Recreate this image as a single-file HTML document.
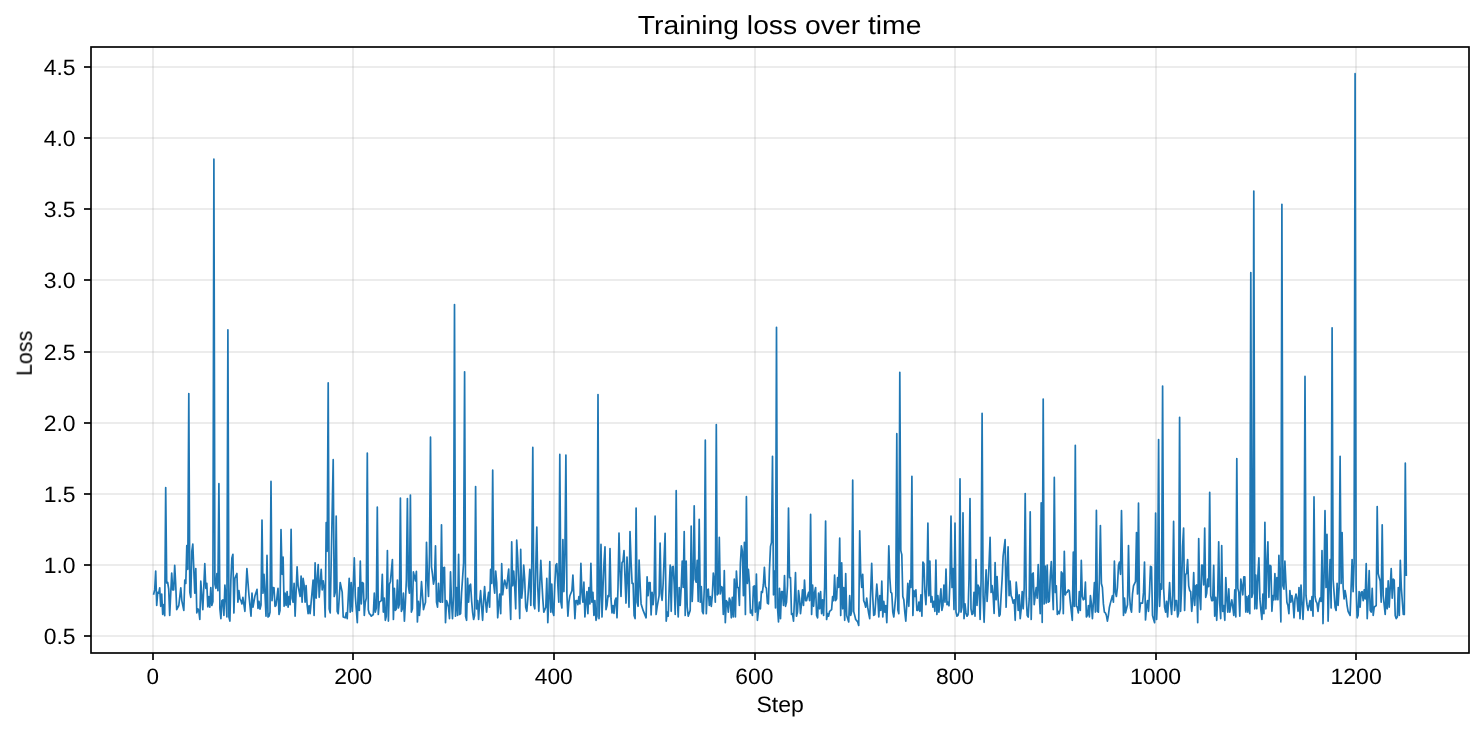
<!DOCTYPE html>
<html lang="en"><head><meta charset="utf-8"><title>Training loss over time</title>
<style>html,body{margin:0;padding:0;background:#fff;}body{width:1484px;height:731px;overflow:hidden;}svg{display:block;}text{font-family:"Liberation Sans",sans-serif;fill:#000;text-rendering:geometricPrecision;}</style></head><body>
<svg width="1484" height="731" viewBox="0 0 1484 731">
<rect x="0" y="0" width="1484" height="731" fill="#fff"/>
<path d="M153.0 47.0V653.0M353.0 47.0V653.0M554.0 47.0V653.0M755.0 47.0V653.0M955.0 47.0V653.0M1156.0 47.0V653.0M1356.0 47.0V653.0" stroke="#b0b0b0" stroke-opacity="0.3" stroke-width="1.67" fill="none"/>
<path d="M91.0 636.0H1469.0M91.0 565.0H1469.0M91.0 494.0H1469.0M91.0 423.0H1469.0M91.0 352.0H1469.0M91.0 280.0H1469.0M91.0 209.0H1469.0M91.0 138.0H1469.0M91.0 67.0H1469.0" stroke="#b0b0b0" stroke-opacity="0.3" stroke-width="1.67" fill="none"/>
<clipPath id="c"><rect x="91.0" y="47.0" width="1378.0" height="606.0"/></clipPath>
<path clip-path="url(#c)" d="M153.7 594.0 L154.7 589.9 L155.7 571.0 L156.7 605.5 L157.7 592.4 L158.7 593.2 L159.7 587.8 L160.7 606.3 L161.7 594.0 L162.7 614.5 L163.7 604.7 L164.7 615.7 L165.7 487.6 L166.7 582.9 L167.7 582.5 L168.7 589.1 L169.7 615.4 L171.7 573.0 L172.7 589.9 L173.7 589.9 L174.7 565.3 L175.7 584.2 L176.7 609.6 L178.8 605.5 L180.8 587.8 L181.8 600.6 L183.8 610.4 L184.8 580.1 L185.8 583.4 L186.8 545.6 L187.8 569.4 L188.8 393.6 L189.8 592.4 L190.8 597.3 L191.8 551.3 L192.8 544.0 L193.8 569.4 L194.8 593.2 L195.8 568.6 L196.8 612.9 L197.8 608.8 L198.8 610.4 L199.8 619.5 L200.8 581.2 L201.8 595.7 L202.8 609.6 L204.8 563.7 L205.8 588.3 L206.8 583.4 L207.8 606.8 L208.8 596.5 L209.8 607.2 L210.8 587.5 L211.8 605.5 L212.9 601.5 L213.9 159.2 L214.9 584.3 L215.9 588.3 L216.9 573.5 L217.9 590.7 L218.9 483.7 L219.9 608.8 L220.9 618.6 L221.9 600.6 L222.9 599.8 L223.9 615.4 L224.9 585.0 L225.9 598.1 L226.9 617.0 L227.9 329.8 L228.9 617.1 L229.9 621.1 L230.9 579.2 L231.9 557.9 L232.9 554.3 L233.9 612.9 L234.9 578.4 L236.9 573.5 L237.9 602.2 L238.9 590.7 L239.9 598.9 L240.9 600.6 L241.9 603.9 L242.9 597.3 L244.9 611.3 L246.9 568.6 L249.0 595.7 L251.0 616.2 L252.0 593.2 L253.0 607.2 L255.0 595.7 L257.0 589.4 L258.0 608.5 L259.0 601.4 L260.0 609.1 L261.0 605.1 L262.0 520.0 L263.0 593.2 L264.0 574.3 L265.0 594.0 L266.0 616.2 L267.0 555.4 L268.0 617.0 L269.0 616.2 L270.0 612.2 L271.0 481.4 L272.0 600.6 L273.0 587.5 L274.0 587.8 L275.0 606.3 L276.0 605.5 L278.0 588.3 L279.0 614.5 L280.0 610.5 L281.0 529.5 L282.1 574.3 L283.1 557.1 L284.1 606.3 L285.1 593.2 L286.1 605.5 L287.1 591.6 L288.1 607.2 L289.1 596.5 L290.1 604.7 L291.1 529.3 L292.1 598.2 L293.1 602.2 L294.1 583.4 L295.1 616.2 L297.1 566.9 L298.1 585.8 L300.1 596.5 L301.1 576.0 L302.1 602.2 L303.1 578.4 L304.1 585.0 L305.1 602.2 L306.1 585.5 L307.1 604.7 L308.1 613.7 L309.1 605.5 L310.1 613.7 L312.1 591.6 L313.1 580.1 L314.1 615.4 L315.1 562.8 L316.1 598.1 L317.2 579.2 L318.2 564.5 L319.2 597.3 L321.2 569.4 L322.2 589.9 L323.2 580.9 L324.2 588.3 L325.2 617.0 L326.2 522.5 L327.2 551.3 L328.2 382.9 L329.2 608.9 L330.2 612.9 L333.2 459.7 L334.2 596.5 L335.2 592.5 L336.2 516.2 L337.2 611.3 L338.2 613.7 L340.2 582.5 L341.2 587.5 L342.2 592.1 L343.2 617.0 L345.2 617.8 L346.2 612.9 L347.2 618.6 L349.2 578.4 L350.2 612.1 L351.2 582.5 L352.3 611.3 L354.3 557.9 L355.3 595.7 L357.3 622.7 L358.3 587.5 L359.3 610.4 L360.3 561.2 L361.3 603.9 L362.3 582.5 L363.3 583.4 L364.3 615.4 L365.3 602.2 L366.3 598.2 L367.3 453.0 L368.3 609.7 L369.3 613.7 L370.3 614.5 L371.3 616.2 L373.3 614.5 L374.3 593.2 L375.3 612.1 L376.3 608.1 L377.3 507.2 L378.3 614.5 L379.3 602.2 L381.3 600.6 L382.3 574.3 L383.3 612.1 L384.3 598.1 L385.3 620.3 L386.3 616.3 L387.4 550.5 L388.4 621.1 L389.4 584.2 L390.4 581.7 L392.4 559.5 L393.4 619.5 L394.4 588.3 L395.4 610.4 L396.4 608.8 L397.4 580.1 L398.4 608.0 L399.4 604.0 L400.4 498.1 L401.4 611.3 L402.4 608.8 L403.4 593.2 L404.4 621.1 L405.4 602.2 L406.4 579.2 L407.4 498.6 L408.4 585.8 L409.4 593.2 L410.4 495.1 L411.4 612.1 L412.4 608.8 L413.4 571.9 L415.4 580.9 L416.4 571.4 L417.4 621.9 L418.4 601.4 L419.4 615.4 L420.4 602.2 L421.5 581.7 L422.5 595.7 L423.5 609.6 L424.5 605.5 L425.5 602.2 L426.5 542.3 L427.5 579.2 L428.5 596.5 L429.5 554.6 L430.5 437.2 L431.5 566.9 L432.5 574.3 L433.5 584.2 L434.5 579.2 L435.5 545.9 L436.5 602.2 L437.5 607.2 L438.5 583.4 L439.5 601.4 L440.5 602.2 L441.5 524.8 L442.5 602.2 L443.5 567.8 L444.5 567.4 L445.5 622.7 L446.5 600.6 L447.5 603.1 L448.5 607.2 L449.5 618.6 L450.5 571.9 L451.5 602.2 L452.5 618.6 L453.5 595.7 L454.5 304.5 L455.5 616.2 L456.6 587.5 L457.6 615.4 L458.6 554.3 L459.6 614.5 L460.6 613.7 L461.6 592.4 L463.6 562.8 L464.6 371.8 L465.6 616.3 L466.6 620.3 L467.6 578.4 L468.6 602.2 L469.6 585.8 L470.6 584.2 L471.6 600.6 L472.6 612.1 L473.6 619.5 L474.6 615.5 L475.6 486.5 L476.6 608.8 L477.6 600.6 L478.6 619.5 L479.6 602.2 L480.6 590.7 L481.6 606.3 L482.6 620.3 L483.6 600.6 L484.6 586.6 L485.6 602.2 L486.6 612.1 L487.6 599.8 L488.6 592.4 L489.6 607.2 L490.6 569.4 L491.7 583.4 L492.7 470.2 L493.7 584.2 L494.7 593.2 L495.7 571.0 L496.7 582.5 L497.7 617.8 L498.7 603.9 L499.7 594.0 L500.7 613.7 L501.7 563.7 L502.7 594.8 L503.7 585.8 L504.7 580.1 L505.7 584.2 L506.7 588.3 L507.7 577.6 L508.7 569.1 L509.7 595.7 L510.7 619.5 L511.7 541.8 L512.7 585.8 L513.7 571.0 L514.7 586.6 L515.7 608.8 L516.7 540.2 L517.7 557.9 L518.7 584.2 L519.7 618.6 L520.7 549.4 L521.7 598.1 L522.7 587.5 L523.7 565.0 L524.7 579.2 L525.7 607.2 L526.8 611.3 L527.8 598.9 L528.8 584.2 L529.8 569.4 L530.8 605.5 L531.8 562.8 L532.8 447.4 L533.8 604.8 L534.8 608.8 L535.8 566.1 L536.8 527.2 L537.8 587.5 L538.8 611.3 L539.8 584.2 L540.8 560.4 L541.8 580.9 L542.8 598.9 L543.8 612.1 L545.8 607.2 L546.8 578.4 L547.8 622.7 L548.8 598.9 L549.8 561.5 L550.8 612.1 L551.8 584.2 L552.8 612.1 L553.8 615.4 L554.8 584.2 L555.8 565.3 L556.8 563.7 L557.8 584.2 L558.8 602.2 L559.8 454.4 L560.9 602.2 L561.9 608.0 L562.9 539.5 L563.9 591.6 L564.9 554.6 L565.9 455.1 L566.9 594.0 L567.9 616.2 L568.9 602.2 L569.9 595.7 L571.9 590.7 L572.9 575.1 L573.9 595.7 L574.9 618.6 L575.9 600.6 L576.9 600.6 L577.9 604.7 L578.9 596.5 L579.9 603.9 L580.9 563.3 L581.9 592.4 L582.9 602.2 L583.9 582.2 L584.9 617.0 L585.9 602.2 L586.9 591.6 L587.9 613.7 L588.9 587.5 L589.9 603.9 L590.9 563.3 L591.9 602.2 L592.9 592.4 L593.9 615.4 L594.9 600.6 L596.0 620.3 L597.0 616.3 L598.0 394.6 L599.0 618.6 L600.0 595.7 L601.0 544.4 L602.0 617.0 L603.0 587.5 L604.0 562.8 L605.0 546.9 L606.0 609.6 L607.0 605.5 L608.0 595.7 L609.0 596.5 L610.0 548.5 L611.0 598.9 L612.0 612.9 L613.0 605.5 L614.0 613.4 L615.0 600.6 L616.0 598.1 L617.0 617.8 L618.0 587.5 L619.0 533.0 L620.0 571.0 L621.0 596.5 L622.0 562.8 L623.0 561.2 L624.0 550.5 L625.0 577.6 L626.0 603.1 L627.0 557.1 L628.0 579.2 L629.0 607.2 L630.0 531.6 L631.1 562.8 L632.1 583.4 L633.1 583.4 L634.1 615.4 L635.1 618.6 L636.1 508.1 L637.1 602.3 L638.1 606.3 L639.1 560.0 L640.1 584.2 L641.1 603.9 L643.1 610.4 L645.1 615.4 L646.1 617.8 L647.1 576.8 L648.1 595.7 L649.1 582.5 L650.1 582.5 L651.1 615.0 L652.1 592.4 L653.1 604.7 L654.1 593.2 L655.1 516.2 L656.1 614.5 L657.1 607.2 L659.1 595.7 L660.1 543.1 L661.1 593.2 L662.1 600.3 L663.1 584.2 L665.1 533.3 L666.2 621.1 L667.2 612.1 L668.2 616.2 L669.2 587.5 L670.2 565.0 L671.2 611.3 L672.2 566.9 L673.2 566.4 L674.2 584.2 L675.2 614.5 L676.2 490.7 L677.2 595.7 L678.2 617.0 L679.2 587.5 L680.2 605.5 L681.2 587.5 L682.2 561.2 L683.2 587.5 L684.2 531.6 L685.2 615.4 L686.2 561.2 L687.2 607.2 L688.2 616.2 L690.2 610.4 L691.2 526.2 L692.2 601.4 L693.2 579.2 L694.2 505.8 L695.2 579.2 L696.2 582.2 L697.2 560.4 L698.2 601.4 L699.2 519.3 L700.3 602.2 L701.3 586.6 L702.3 611.3 L703.3 613.7 L704.3 587.5 L705.3 440.2 L706.3 613.7 L707.3 589.9 L708.3 589.1 L709.3 605.5 L710.3 596.5 L711.3 606.3 L712.3 595.7 L713.3 573.2 L714.3 580.9 L715.3 602.2 L716.3 424.6 L717.3 594.8 L718.3 593.2 L719.3 537.4 L720.3 594.0 L721.3 586.6 L722.3 587.5 L723.3 614.5 L724.3 570.7 L725.3 622.7 L726.3 600.6 L727.3 602.2 L728.3 612.1 L729.3 598.1 L730.3 600.6 L731.3 617.8 L732.3 597.3 L733.3 617.0 L734.3 579.2 L735.4 617.0 L736.4 571.0 L737.4 587.5 L738.4 587.5 L739.4 605.5 L740.4 562.8 L741.4 545.9 L742.4 551.3 L743.4 595.7 L744.4 542.3 L745.4 614.5 L746.4 496.7 L747.4 583.4 L748.4 569.4 L749.4 582.5 L750.4 612.9 L751.4 610.4 L752.4 615.4 L753.4 586.6 L754.4 585.8 L755.4 612.1 L756.4 574.0 L757.4 620.3 L759.4 602.2 L760.4 608.8 L761.4 591.6 L762.4 592.4 L763.4 584.2 L764.4 567.4 L765.4 586.6 L766.4 588.3 L767.4 603.1 L768.4 603.9 L769.4 571.0 L770.5 546.4 L771.5 542.4 L772.5 456.3 L773.5 594.8 L774.5 571.0 L775.5 608.0 L776.5 327.3 L777.5 607.2 L778.5 621.9 L779.5 588.3 L780.5 618.6 L781.5 591.6 L782.5 591.6 L783.5 605.5 L784.5 575.6 L785.5 606.3 L786.5 602.2 L787.5 585.8 L788.5 508.1 L789.5 577.6 L790.5 577.6 L791.5 614.5 L792.5 613.7 L793.5 621.1 L794.5 598.9 L795.5 572.7 L796.5 616.2 L797.5 612.1 L798.5 590.7 L799.5 598.9 L800.5 613.7 L801.5 603.9 L802.5 589.9 L803.5 605.5 L804.5 580.1 L805.6 600.6 L806.6 600.6 L807.6 595.7 L808.6 592.4 L809.6 600.6 L810.6 514.4 L811.6 614.5 L812.6 585.0 L813.6 606.3 L814.6 592.4 L815.6 587.5 L816.6 615.4 L817.6 617.8 L818.6 593.2 L819.6 608.8 L820.6 591.6 L821.6 613.7 L822.6 599.8 L823.6 615.4 L824.6 587.5 L825.6 521.1 L826.6 619.5 L827.6 613.7 L828.6 616.2 L829.6 611.3 L831.6 609.6 L832.6 596.5 L833.6 600.6 L834.6 575.1 L835.6 600.6 L836.6 598.9 L837.6 577.6 L838.6 587.5 L839.7 538.2 L840.7 615.4 L841.7 562.8 L842.7 608.8 L843.7 587.5 L844.7 620.3 L845.7 573.5 L846.7 615.4 L848.7 621.9 L849.7 595.7 L850.7 615.4 L851.7 611.4 L852.7 480.2 L853.7 611.4 L854.7 615.4 L855.7 619.5 L857.7 621.9 L858.7 625.5 L859.7 530.8 L860.7 572.7 L861.7 587.5 L862.7 574.3 L863.7 600.6 L864.7 603.1 L865.7 607.2 L866.7 598.1 L867.7 607.2 L868.7 613.7 L869.7 618.6 L871.7 563.3 L872.7 595.7 L873.7 615.4 L874.8 614.5 L876.8 584.2 L877.8 597.3 L878.8 617.0 L879.8 595.7 L880.8 610.4 L881.8 581.2 L882.8 617.0 L883.8 601.4 L884.8 612.1 L885.8 605.5 L886.8 622.7 L887.8 592.4 L888.8 545.9 L889.8 577.6 L890.8 592.4 L891.8 593.2 L892.8 612.1 L893.8 617.0 L895.8 595.7 L896.8 433.7 L897.8 609.7 L898.8 613.7 L899.8 372.3 L900.8 550.6 L901.8 554.6 L902.8 596.5 L903.8 599.8 L904.8 612.1 L905.8 621.1 L906.8 603.9 L907.8 583.4 L908.8 606.3 L909.9 580.6 L910.9 587.5 L911.9 476.3 L912.9 615.4 L913.9 590.7 L914.9 596.5 L915.9 589.9 L916.9 610.4 L917.9 610.4 L918.9 602.2 L919.9 611.3 L920.9 594.8 L921.9 616.2 L922.9 562.0 L923.9 563.7 L924.9 592.4 L925.9 604.7 L926.9 584.2 L927.9 523.2 L928.9 595.7 L929.9 561.2 L930.9 602.2 L931.9 596.5 L932.9 607.2 L933.9 601.4 L934.9 611.3 L935.9 560.0 L936.9 614.5 L937.9 595.7 L938.9 612.1 L939.9 600.6 L940.9 588.8 L941.9 610.4 L942.9 605.5 L943.9 585.0 L945.0 602.2 L946.0 569.1 L947.0 604.7 L948.0 602.2 L949.0 605.8 L950.0 579.2 L951.0 516.2 L952.0 587.5 L953.0 568.6 L954.0 609.6 L955.0 523.2 L956.0 612.1 L957.0 616.2 L958.0 615.4 L959.0 611.4 L960.0 478.8 L961.0 612.1 L962.0 607.2 L963.0 512.8 L964.0 618.6 L965.0 603.9 L966.0 612.9 L967.0 616.2 L968.0 614.5 L969.0 579.2 L970.0 498.6 L971.0 608.8 L972.0 614.5 L973.0 613.7 L974.0 592.4 L975.0 616.2 L976.0 559.5 L977.0 605.5 L978.0 585.0 L979.1 587.5 L980.1 619.5 L981.1 579.2 L982.1 413.3 L983.1 595.7 L984.1 622.3 L985.1 592.4 L986.1 569.9 L987.1 601.4 L988.1 584.2 L989.1 562.8 L990.1 537.4 L991.1 592.4 L992.1 585.5 L993.1 594.8 L994.1 613.4 L995.1 562.5 L996.1 599.8 L997.1 576.5 L998.1 598.9 L999.1 616.2 L1000.1 614.5 L1001.1 595.7 L1002.1 579.2 L1003.1 556.3 L1005.1 539.5 L1006.1 607.2 L1007.1 571.0 L1008.1 546.9 L1009.1 595.7 L1010.1 581.2 L1011.1 595.7 L1012.1 598.1 L1013.1 603.1 L1014.2 599.8 L1015.2 620.3 L1016.2 582.2 L1017.2 593.2 L1018.2 610.4 L1019.2 594.8 L1020.2 618.6 L1021.2 608.8 L1022.2 591.6 L1023.2 608.8 L1024.2 587.5 L1025.2 493.5 L1026.2 595.7 L1027.2 615.4 L1028.2 617.0 L1029.2 598.9 L1030.2 511.8 L1031.2 619.5 L1032.2 574.3 L1033.2 573.0 L1034.2 604.7 L1035.2 595.7 L1036.2 587.5 L1037.2 598.1 L1038.2 564.5 L1039.2 592.4 L1040.2 613.7 L1041.2 502.8 L1042.2 622.3 L1043.2 399.1 L1044.2 603.9 L1045.2 566.1 L1046.2 603.1 L1047.2 565.0 L1048.2 602.2 L1049.3 601.4 L1050.3 576.0 L1051.3 561.5 L1052.3 587.5 L1053.3 609.6 L1054.3 477.4 L1055.3 592.4 L1056.3 585.8 L1057.3 614.5 L1058.3 611.3 L1059.3 613.7 L1060.3 608.8 L1061.3 571.9 L1062.3 573.5 L1063.3 613.7 L1064.3 551.3 L1065.3 594.8 L1066.3 592.4 L1067.3 592.1 L1068.3 589.9 L1069.3 590.7 L1070.3 602.2 L1072.3 620.3 L1073.3 552.2 L1074.3 606.3 L1075.3 445.3 L1076.3 606.3 L1077.3 607.2 L1078.3 612.9 L1079.3 591.6 L1080.3 610.4 L1081.3 560.4 L1082.3 596.5 L1083.3 599.8 L1084.4 598.9 L1085.4 582.2 L1086.4 617.0 L1087.4 615.4 L1088.4 605.5 L1089.4 617.0 L1090.4 595.7 L1091.4 603.9 L1092.4 618.6 L1093.4 602.2 L1094.4 582.5 L1095.4 612.1 L1096.4 510.4 L1097.4 611.3 L1098.4 612.1 L1099.4 579.2 L1100.4 525.5 L1101.4 583.5 L1102.4 587.5 L1103.4 603.9 L1104.4 612.1 L1105.4 612.9 L1106.4 615.4 L1107.4 621.1 L1108.4 615.4 L1109.4 607.2 L1110.4 603.1 L1112.4 595.7 L1113.4 602.2 L1114.4 561.2 L1115.4 592.4 L1116.4 596.5 L1117.4 587.5 L1118.5 565.3 L1119.5 562.0 L1120.5 574.3 L1121.5 510.7 L1122.5 571.0 L1123.5 615.4 L1124.5 598.1 L1125.5 612.9 L1126.5 608.8 L1127.5 604.8 L1128.5 545.6 L1129.5 595.7 L1130.5 608.0 L1131.5 612.1 L1132.5 594.0 L1133.5 585.8 L1135.5 581.7 L1136.5 532.5 L1137.5 594.0 L1138.5 503.2 L1139.5 612.1 L1140.5 603.1 L1142.5 603.1 L1143.5 592.4 L1144.5 562.0 L1145.5 620.0 L1146.5 607.2 L1147.5 600.6 L1148.5 611.3 L1149.5 592.4 L1150.5 566.4 L1151.5 566.9 L1152.5 615.4 L1153.6 619.5 L1154.6 622.7 L1155.6 513.2 L1156.6 619.5 L1157.6 595.7 L1158.6 439.5 L1159.6 606.3 L1160.6 584.2 L1161.6 589.1 L1162.6 386.0 L1163.6 587.5 L1164.6 607.2 L1165.6 612.1 L1166.6 601.4 L1167.6 617.0 L1168.6 600.6 L1169.6 582.5 L1170.6 603.1 L1171.6 614.5 L1172.6 595.7 L1173.6 521.4 L1174.6 610.4 L1175.6 600.6 L1176.6 600.6 L1177.6 617.0 L1178.6 613.0 L1179.6 417.3 L1180.6 611.3 L1181.6 587.5 L1182.6 546.4 L1183.6 528.1 L1184.6 610.4 L1185.6 574.3 L1186.6 573.5 L1187.6 559.5 L1188.7 585.8 L1189.7 590.7 L1190.7 591.6 L1191.7 611.3 L1192.7 600.6 L1193.7 572.7 L1194.7 605.5 L1195.7 585.8 L1196.7 585.0 L1197.7 622.7 L1198.7 538.5 L1199.7 595.7 L1200.7 609.6 L1201.7 565.0 L1202.7 565.3 L1203.7 585.0 L1204.7 528.1 L1205.7 597.3 L1206.7 593.2 L1207.7 579.2 L1208.7 586.6 L1209.7 492.3 L1210.7 595.7 L1211.7 600.6 L1212.7 600.6 L1213.7 565.3 L1214.7 616.2 L1215.7 597.3 L1216.7 620.3 L1217.7 595.7 L1218.7 541.8 L1219.7 603.1 L1220.7 618.6 L1221.7 545.6 L1222.7 611.3 L1223.8 605.5 L1224.8 620.3 L1225.8 577.6 L1226.8 598.9 L1227.8 612.1 L1228.8 588.8 L1229.8 612.1 L1230.8 605.5 L1231.8 599.8 L1232.8 607.2 L1233.8 615.4 L1234.8 589.9 L1235.8 617.0 L1236.8 458.6 L1237.8 588.4 L1238.8 592.4 L1239.8 616.2 L1240.8 579.2 L1241.8 585.8 L1242.8 594.8 L1243.8 576.8 L1244.8 576.8 L1245.8 612.1 L1246.8 596.5 L1247.8 612.1 L1248.8 595.7 L1249.8 613.7 L1250.8 272.6 L1251.8 597.3 L1252.8 593.3 L1253.8 191.1 L1254.8 608.8 L1255.8 575.1 L1256.8 608.8 L1257.9 575.1 L1258.9 557.9 L1259.9 598.9 L1260.9 610.4 L1261.9 619.5 L1262.9 594.0 L1263.9 613.7 L1264.9 522.3 L1265.9 608.8 L1266.9 564.5 L1267.9 541.8 L1268.9 597.3 L1269.9 565.3 L1270.9 566.1 L1271.9 611.3 L1272.9 595.7 L1273.9 599.8 L1274.9 573.5 L1275.9 599.8 L1276.9 577.6 L1277.9 599.8 L1278.9 555.4 L1279.9 588.3 L1280.9 621.9 L1281.9 204.3 L1282.9 585.8 L1283.9 589.1 L1284.9 561.2 L1285.9 582.5 L1286.9 602.2 L1287.9 605.5 L1288.9 613.7 L1289.9 590.7 L1290.9 602.2 L1291.9 595.7 L1293.0 602.2 L1294.0 617.8 L1295.0 598.9 L1296.0 594.0 L1297.0 598.9 L1298.0 611.3 L1299.0 587.5 L1300.0 618.6 L1301.0 585.0 L1302.0 602.2 L1303.0 619.5 L1304.0 595.7 L1305.0 376.4 L1306.0 595.7 L1307.0 604.7 L1308.0 610.4 L1310.0 600.6 L1311.0 610.4 L1312.0 596.5 L1313.0 616.2 L1314.0 496.9 L1315.0 596.5 L1316.0 601.4 L1317.0 603.1 L1318.0 611.3 L1319.0 602.2 L1320.0 598.1 L1321.0 601.4 L1322.0 550.5 L1323.0 623.6 L1324.0 579.2 L1325.0 510.7 L1326.0 587.5 L1327.0 534.4 L1328.1 621.1 L1329.1 587.5 L1330.1 559.5 L1331.1 608.0 L1332.1 327.8 L1333.1 579.2 L1335.1 607.2 L1336.1 610.4 L1337.1 583.4 L1338.1 605.5 L1339.1 587.5 L1340.1 456.3 L1341.1 583.4 L1342.1 532.5 L1343.1 586.6 L1344.1 598.9 L1345.1 590.7 L1346.1 596.5 L1347.1 605.5 L1348.1 611.3 L1350.1 615.4 L1351.1 587.5 L1352.1 559.5 L1353.1 591.6 L1354.1 562.8 L1355.1 73.7 L1356.1 585.8 L1357.1 617.8 L1358.1 615.4 L1359.1 591.6 L1360.1 607.2 L1361.1 592.4 L1362.1 591.6 L1363.2 600.6 L1364.2 589.9 L1365.2 598.9 L1366.2 563.7 L1367.2 618.6 L1368.2 595.7 L1369.2 570.7 L1370.2 610.4 L1371.2 612.1 L1372.2 588.3 L1373.2 615.4 L1374.2 607.2 L1376.2 605.5 L1377.2 506.5 L1378.2 573.6 L1379.2 577.6 L1380.2 580.9 L1381.2 602.2 L1382.2 524.8 L1383.2 595.7 L1385.2 614.5 L1386.2 588.3 L1387.2 608.8 L1388.2 580.9 L1389.2 607.2 L1390.2 587.5 L1391.2 568.6 L1392.2 598.1 L1393.2 579.2 L1394.2 580.1 L1395.2 615.4 L1396.2 618.6 L1397.3 617.0 L1398.3 587.5 L1399.3 615.4 L1400.3 560.4 L1401.3 587.5 L1403.3 614.5 L1404.3 614.5 L1405.3 463.2 L1406.3 575.1" stroke="#1f77b4" stroke-width="1.7" fill="none" stroke-linejoin="round" stroke-linecap="square"/>
<g fill="#000"><rect x="152.165" y="653.0" width="1.67" height="7"/><rect x="352.165" y="653.0" width="1.67" height="7"/><rect x="553.165" y="653.0" width="1.67" height="7"/><rect x="754.165" y="653.0" width="1.67" height="7"/><rect x="954.165" y="653.0" width="1.67" height="7"/><rect x="1155.165" y="653.0" width="1.67" height="7"/><rect x="1355.165" y="653.0" width="1.67" height="7"/><rect x="84.0" y="635.165" width="7" height="1.67"/><rect x="84.0" y="564.165" width="7" height="1.67"/><rect x="84.0" y="493.165" width="7" height="1.67"/><rect x="84.0" y="422.165" width="7" height="1.67"/><rect x="84.0" y="351.165" width="7" height="1.67"/><rect x="84.0" y="279.165" width="7" height="1.67"/><rect x="84.0" y="208.165" width="7" height="1.67"/><rect x="84.0" y="137.165" width="7" height="1.67"/><rect x="84.0" y="66.165" width="7" height="1.67"/></g>
<rect x="91.0" y="47.0" width="1378.0" height="606.0" fill="none" stroke="#000" stroke-width="1.67"/>
<g style="filter:grayscale(1)">
<text x="152.65" y="684" font-size="22.2" text-anchor="middle" textLength="12.5" lengthAdjust="spacingAndGlyphs">0</text>
<text x="353.25" y="684" font-size="22.2" text-anchor="middle" textLength="38.1" lengthAdjust="spacingAndGlyphs">200</text>
<text x="553.75" y="684" font-size="22.2" text-anchor="middle" textLength="38.1" lengthAdjust="spacingAndGlyphs">400</text>
<text x="754.30" y="684" font-size="22.2" text-anchor="middle" textLength="38.1" lengthAdjust="spacingAndGlyphs">600</text>
<text x="955.00" y="684" font-size="22.2" text-anchor="middle" textLength="38.1" lengthAdjust="spacingAndGlyphs">800</text>
<text x="1155.55" y="684" font-size="22.2" text-anchor="middle" textLength="51.3" lengthAdjust="spacingAndGlyphs">1000</text>
<text x="1356.10" y="684" font-size="22.2" text-anchor="middle" textLength="51.3" lengthAdjust="spacingAndGlyphs">1200</text>
<text x="75.6" y="644" font-size="22.2" text-anchor="end" textLength="31.9" lengthAdjust="spacingAndGlyphs">0.5</text>
<text x="75.6" y="573" font-size="22.2" text-anchor="end" textLength="31.9" lengthAdjust="spacingAndGlyphs">1.0</text>
<text x="75.6" y="502" font-size="22.2" text-anchor="end" textLength="31.9" lengthAdjust="spacingAndGlyphs">1.5</text>
<text x="75.6" y="431" font-size="22.2" text-anchor="end" textLength="31.9" lengthAdjust="spacingAndGlyphs">2.0</text>
<text x="75.6" y="360" font-size="22.2" text-anchor="end" textLength="31.9" lengthAdjust="spacingAndGlyphs">2.5</text>
<text x="75.6" y="288" font-size="22.2" text-anchor="end" textLength="31.9" lengthAdjust="spacingAndGlyphs">3.0</text>
<text x="75.6" y="217" font-size="22.2" text-anchor="end" textLength="31.9" lengthAdjust="spacingAndGlyphs">3.5</text>
<text x="75.6" y="146" font-size="22.2" text-anchor="end" textLength="31.9" lengthAdjust="spacingAndGlyphs">4.0</text>
<text x="75.6" y="75" font-size="22.2" text-anchor="end" textLength="31.9" lengthAdjust="spacingAndGlyphs">4.5</text>
<text x="780.1" y="712" font-size="22.2" text-anchor="middle" textLength="47.4" lengthAdjust="spacingAndGlyphs">Step</text>
<text transform="translate(31.8 353.4) rotate(-90)" font-size="22.2" text-anchor="middle" textLength="45.2" lengthAdjust="spacingAndGlyphs">Loss</text>
<text x="779.6" y="34" font-size="26.1" text-anchor="middle" textLength="283.6" lengthAdjust="spacingAndGlyphs">Training loss over time</text>
</g>
</svg></body></html>
